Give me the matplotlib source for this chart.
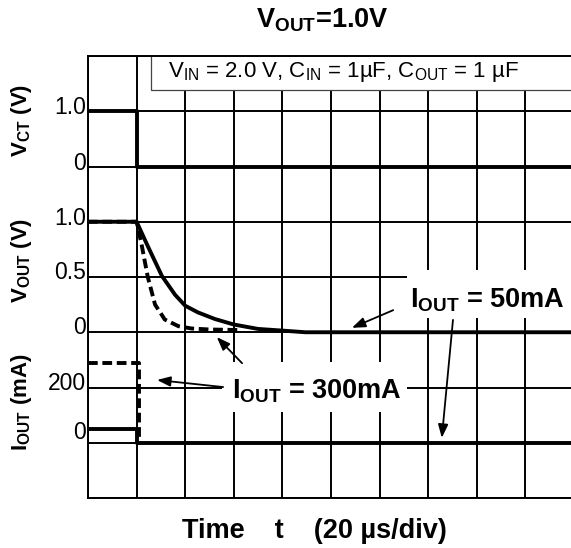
import numpy as np
import matplotlib
matplotlib.use('Agg')
import matplotlib.pyplot as plt
from matplotlib.patches import Rectangle

plt.rcParams['font.family'] = ['Liberation Sans', 'DejaVu Sans']
plt.rcParams['mathtext.fontset'] = 'custom'
plt.rcParams['mathtext.rm'] = 'Liberation Sans'
plt.rcParams['mathtext.it'] = 'Liberation Sans:italic'
plt.rcParams['mathtext.bf'] = 'Liberation Sans:bold'

# time in us (20 us/div)
t_vct = [0, 20, 20, 205]
vct = [1.0, 1.0, 0.0, 0.0]

t_vout_50 = [0, 20, 24.8, 30.4, 35.8, 40, 45.2, 52.2, 60, 70, 80, 89.4, 205]
vout_50 = [1.0, 1.0, 0.77, 0.51, 0.34, 0.24, 0.18, 0.12, 0.07, 0.03, 0.015, 0.0, 0.0]

t_vout_300 = [0, 20, 22, 24.6, 27.6, 31.6, 37.2, 42.6, 50, 62]
vout_300 = [1.0, 1.0, 0.8, 0.5, 0.25, 0.115, 0.055, 0.034, 0.025, 0.02]

t_iout_50 = [0, 20, 20, 205]
iout_50 = [50, 50, 0, 0]
t_iout_300 = [0, 20.8, 20.8]
iout_300 = [300, 300, 0]

# panel placement on the 8-row grid (row = base + value*scale)
vct_base, vct_scale = 6, 1.0
vout_base, vout_scale = 3, 2.0
iout_base, iout_scale = 1, 1.45 / 300

tick_labels = ['1.0', '0', '1.0', '0.5', '0', '200', '0']
tick_rows = [7.06, 6.06, 5.06, 4.09, 3.08, 2.08, 1.19]


def vct_rows(v):
    return vct_base + np.array(v) * vct_scale


def vout_rows(v):
    return vout_base + np.array(v) * vout_scale


def iout_rows(i):
    return iout_base + np.array(i) * iout_scale


fig = plt.figure(figsize=(5.71, 5.48), dpi=100)
ax = fig.add_axes([88 / 571, 50 / 548, 486 / 571, 442 / 548])
ax.set_xlim(0, 200)
ax.set_ylim(0, 8)
ax.set_xticks(np.arange(0, 201, 20))
ax.set_yticks(range(9))
ax.tick_params(length=0, labelleft=False, labelbottom=False)
ax.set_axisbelow(True)
ax.grid(color='black', lw=1.4)
for s in ax.spines.values():
    s.set_linewidth(1.4)

# white boxes over the grid
ax.add_patch(Rectangle((0.1296, 0.923), 0.95, 0.08, transform=ax.transAxes,
                       fc='white', ec='#444444', lw=0.9, zorder=1.5))
ax.add_patch(Rectangle((0.656, 0.407), 0.4, 0.109, transform=ax.transAxes,
                       fc='white', ec='none', zorder=1.5))
ax.add_patch(Rectangle((0.276, 0.195), 0.38, 0.113, transform=ax.transAxes,
                       fc='white', ec='none', zorder=1.5))

lw = 2.8
dash = (0, (2.5, 1.2))
ax.plot(t_vct, vct_rows(vct), color='black', lw=lw, zorder=3)
ax.plot(t_vout_50, vout_rows(vout_50), color='black', lw=lw, zorder=3)
ax.plot(t_vout_300, vout_rows(vout_300), color='black', lw=lw, ls=dash, zorder=3)
ax.plot(t_iout_50, iout_rows(iout_50), color='black', lw=lw, zorder=3)
ax.plot(t_iout_300, iout_rows(iout_300), color='black', lw=lw, ls=dash, zorder=3)

ytr = ax.get_yaxis_transform()
for lab, r in zip(tick_labels, tick_rows):
    ax.text(-0.004, r, lab, transform=ytr, ha='right', va='center', fontsize=16.5)

ax.text(0.165, 0.9525, r'$\mathrm{V_{IN}}$ = 2.0 V, $\mathrm{C_{IN}}$ = 1µF, $\mathrm{C_{OUT}}$ = 1 µF',
        transform=ax.transAxes, fontsize=16, ha='left', va='baseline', zorder=4)

ax.text(0.822, 0.430, r'$\mathbf{I_{OUT}}$ = 50mA', transform=ax.transAxes,
        fontsize=19.5, fontweight='bold', ha='center', va='baseline', zorder=4)
ax.text(0.471, 0.226, r'$\mathbf{I_{OUT}}$ = 300mA', transform=ax.transAxes,
        fontsize=19.5, fontweight='bold', ha='center', va='baseline', zorder=4)

arrows = [((0.628, 0.425), (0.543, 0.385)),
          ((0.751, 0.403), (0.728, 0.136)),
          ((0.278, 0.251), (0.142, 0.267)),
          ((0.317, 0.305), (0.265, 0.364))]
for tail, head in arrows:
    ax.annotate('', xy=head, xytext=tail, xycoords='axes fraction',
                arrowprops=dict(arrowstyle='-|>,head_length=0.8,head_width=0.3',
                                lw=1.3, color='black', shrinkA=0, shrinkB=0),
                zorder=4)

fig.text(22 / 571, 1 - 120 / 548, r'$\mathbf{V_{CT}}$ (V)', rotation=90,
         ha='center', va='center', fontsize=16, fontweight='bold')
fig.text(22 / 571, 1 - 260 / 548, r'$\mathbf{V_{OUT}}$ (V)', rotation=90,
         ha='center', va='center', fontsize=16, fontweight='bold')
fig.text(22 / 571, 1 - 402 / 548, r'$\mathbf{I_{OUT}}$ (mA)', rotation=90,
         ha='center', va='center', fontsize=16, fontweight='bold')

fig.text(322 / 571, 1 - 20 / 548, r'$\mathbf{V_{OUT}}$=1.0V', ha='center', va='center',
         fontsize=19.5, fontweight='bold')
fig.text(314 / 571, 1 - 531 / 548, 'Time    t    (20 µs/div)', ha='center', va='center',
         fontsize=19.5, fontweight='bold')

fig.savefig('out.png', dpi=100)
